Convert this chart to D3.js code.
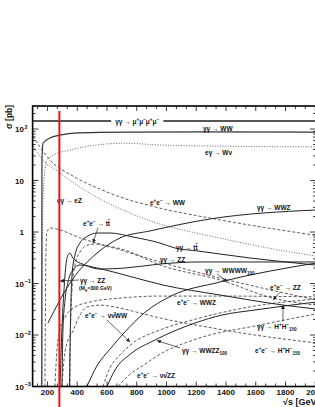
<!DOCTYPE html>
<html>
<head>
<meta charset="utf-8">
<script src="https://cdn.jsdelivr.net/npm/d3@7"></script>
<style>
  body { margin: 0; background: #fff; }
  text { font-family: "Liberation Sans", Arial, sans-serif; }
</style>
</head>
<body>
<div id="chart"></div>
<script>
// cross sections: [sqrt(s) in GeV, sigma in pb]
var ggMuMuMuMu = [[100, 143], [2005, 143]];
var ggWW = [[161.5, 0.001], [162.3, 2], [163, 25], [170, 53], [217, 67], [284, 76], [418, 84], [721, 87], [1300, 88], [2005, 87]];
var egWnu = [[164, 0.001], [167, 0.6], [172, 6], [197, 25], [237, 31], [351, 39], [533, 49], [721, 53], [956, 49], [1500, 46], [2005, 45]];
var eeWW = [[102, 73], [217, 25], [371, 12.2], [553, 6.8], [687, 4.8], [923, 3.06], [1326, 1.79], [2005, 0.86]];
var egeZ = [[102, 47], [170, 25], [284, 14], [398, 8.2], [553, 4.4], [721, 2.56], [956, 1.43], [1326, 0.8], [1750, 0.45], [2005, 0.34]];
var ggWWZ = [[203, 0.017], [284, 0.048], [365, 0.117], [533, 0.39], [687, 0.765], [889, 1.05], [1292, 1.79], [2005, 2.68]];
var ggTT = [[348, 0.001], [355, 0.0196], [365, 0.146], [385, 0.358], [418, 0.611], [472, 0.836], [533, 0.956], [620, 0.956], [775, 0.8], [956, 0.611], [1057, 0.489], [1212, 0.428], [1561, 0.313], [2005, 0.228]];
var ggZZ = [[284, 0.001], [297, 0.0125], [311, 0.075], [324, 0.229], [338, 0.358], [351, 0.391], [371, 0.313], [452, 0.229], [553, 0.191], [721, 0.2], [956, 0.239], [1225, 0.262], [2005, 0.262]];
var ggHH = [[297.5, 0.001], [304, 0.0125], [318, 0.048], [338, 0.107], [371, 0.183], [418, 0.229], [533, 0.2], [721, 0.146], [976, 0.0935], [1360, 0.0598], [1783, 0.0382], [2005, 0.032]];
var ggWWWW = [[465, 0.001], [532, 0.0025], [620, 0.0053], [721, 0.0115], [855, 0.0275], [1024, 0.056], [1360, 0.107], [2005, 0.25]];
var ggWWZZ = [[600, 0.001], [654, 0.0021], [755, 0.0042], [923, 0.008], [1192, 0.0171], [1373, 0.0244], [1595, 0.0306], [2005, 0.0437]];
var eeZZ = [[183, 0.001], [186.6, 0.048], [190, 0.447], [197, 1.0], [217, 1.2], [284, 1.1], [418, 0.77], [553, 0.585], [721, 0.447], [956, 0.229], [1360, 0.117], [1716, 0.052], [2005, 0.038]];
var eeTT = [[351, 0.001], [354.6, 0.0125], [365, 0.075], [385, 0.229], [418, 0.409], [472, 0.559], [519, 0.585], [620, 0.511], [755, 0.391], [956, 0.262], [1360, 0.128], [2005, 0.048]];
var eeWWZ = [[250, 0.001], [264, 0.0053], [284, 0.0125], [318, 0.022], [385, 0.035], [486, 0.0437], [687, 0.052], [956, 0.057], [1360, 0.057], [2005, 0.055]];
var eeHH = [[297.5, 0.001], [311, 0.0033], [338, 0.008], [365, 0.011], [418, 0.0244], [465, 0.035], [553, 0.038], [687, 0.0334], [822, 0.0267], [956, 0.0214], [1225, 0.0151], [1595, 0.01], [2005, 0.007]];
var eeNuNuWW = [[573, 0.001], [620, 0.0023], [687, 0.0041], [775, 0.007], [956, 0.0125], [1225, 0.0214], [1595, 0.0366], [2005, 0.05]];
var eeNuNuZZ = [[674, 0.001], [741, 0.0016], [855, 0.0027], [923, 0.0037], [1225, 0.0088], [1595, 0.015], [2005, 0.0256]];

// labels: [sqrt(s) of left edge, sigma at baseline, text]   {..} = superscript, [..] = subscript
var curveLabels = [
  [655, 125, 'γγ → μ{+}μ{−}μ{+}μ{−}'],
  [1245, 91.5, 'γγ → WW'],
  [1259, 31.3, 'eγ → Wν'],
  [264, 3.66, 'eγ → eZ'],
  [889, 3.34, 'e{+}e{−} → WW'],
  [1608, 2.67, 'γγ → WWZ'],
  [439, 1.31, 'e{+}e{−} → tt̄'],
  [1064, 0.447, 'γγ → tt̄'],
  [956, 0.262, 'γγ → ZZ'],
  [418, 0.102, 'γγ → ZZ'],
  [1259, 0.16, 'γγ → WWWW[100]'],
  [1696, 0.0748, 'e{+}e{−} → ZZ'],
  [1071, 0.0382, 'e{+}e{−} → WWZ'],
  [452, 0.0214, 'e{+}e{−} → νν̄WW'],
  [1608, 0.0131, 'γγ → H{+}H{−}[150]'],
  [1104, 0.00447, 'γγ → WWZZ[100]'],
  [1595, 0.00447, 'e{+}e{−} → H{+}H{−}[150]'],
  [802, 0.00146, 'e{+}e{−} → νν̄ZZ']
];
var noteLabels = [[412, 0.0748, '(M[H]=300 GeV)']];
// arrows from label to curve: [x1, s1, x2, s2]
var labelArrows = [
  [539, 1.2, 506, 0.611],
  [412, 0.117, 284, 0.112],
  [1341, 0.153, 1408, 0.107],
  [1763, 0.068, 1716, 0.048],
  [600, 0.0196, 755, 0.0073],
  [1783, 0.0187, 1783, 0.0382],
  [1091, 0.0056, 936, 0.0078]
];
var markerSqrtS = [280];

var xTickValues = [200, 400, 600, 800, 1000, 1200, 1400, 1600, 1800, 2000];
var yTickValues = [1e-3, 1e-2, 1e-1, 1, 10, 100];
var yTickBase = ['10', '10', '10', '1', '10', '10'];
var yTickExp = ['−3', '−2', '−1', '', '', '2'];

// canvas and frame
var W = 315, H = 407;
var frame = {left: 32.6, top: 106, right: 316, bottom: 386.5};

var x = d3.scaleLinear().domain([100, 2005]).range([frame.left, frame.right]);
var y = d3.scaleLog().domain([1e-3, 280]).range([frame.bottom, frame.top]);

var svg = d3.select('#chart').append('svg')
    .attr('width', W)
    .attr('height', H);

svg.append('clipPath').attr('id', 'clip')
  .append('rect')
    .attr('x', frame.left).attr('y', frame.top)
    .attr('width', frame.right - frame.left)
    .attr('height', frame.bottom - frame.top);

var defs = svg.append('defs');
defs.append('marker')
    .attr('id', 'arrow')
    .attr('viewBox', '0 0 6 6')
    .attr('refX', 6).attr('refY', 3)
    .attr('markerUnits', 'userSpaceOnUse')
    .attr('markerWidth', 4).attr('markerHeight', 4)
    .attr('orient', 'auto')
  .append('path')
    .attr('d', 'M0,0 L6,3 L0,6 z')
    .attr('fill', '#222');

var styles = {
  thick:  {stroke: '#555', width: 2, dash: null},
  solid:  {stroke: '#222', width: 1, dash: null},
  main:   {stroke: '#333', width: 1.2, dash: null},
  dashed: {stroke: '#333', width: 0.8, dash: '3,2'},
  dotted: {stroke: '#555', width: 0.9, dash: '1,1.6'}
};

var series = [
  [ggMuMuMuMu, 'thick'], [ggWW, 'main'], [egWnu, 'dotted'], [eeWW, 'dashed'], [egeZ, 'dotted'],
  [ggWWZ, 'solid'], [ggTT, 'solid'], [ggZZ, 'solid'], [ggHH, 'solid'], [ggWWWW, 'solid'],
  [ggWWZZ, 'solid'], [eeZZ, 'dashed'], [eeTT, 'dashed'], [eeWWZ, 'dashed'], [eeHH, 'dashed'],
  [eeNuNuWW, 'dashed'], [eeNuNuZZ, 'dashed']
];

var line = d3.line()
    .x(function(d) { return x(d[0]); })
    .y(function(d) { return y(d[1]); })
    .curve(d3.curveMonotoneX);

var curves = svg.append('g').attr('clip-path', 'url(#clip)');
curves.selectAll('path.curve')
    .data(series)
  .enter().append('path')
    .attr('class', 'curve')
    .attr('d', function(d) { return line(d[0]); })
    .attr('fill', 'none')
    .attr('stroke', function(d) { return styles[d[1]].stroke; })
    .attr('stroke-width', function(d) { return styles[d[1]].width; })
    .attr('stroke-dasharray', function(d) { return styles[d[1]].dash; });

// rich text: {sup} and [sub]
function richText(sel, str, size) {
  var re = /\{([^}]*)\}|\[([^\]]*)\]|([^{\[]+)/g, m, shift = 0;
  while ((m = re.exec(str)) !== null) {
    var target = m[1] !== undefined ? -size * 0.4 : (m[2] !== undefined ? size * 0.3 : 0);
    var txt = m[1] !== undefined ? m[1] : (m[2] !== undefined ? m[2] : m[3]);
    sel.append('tspan')
        .attr('dy', target - shift)
        .attr('font-size', target === 0 ? size : size * 0.7)
        .text(txt);
    shift = target;
  }
}

// labels
var labelSize = 6.5;
curveLabels.forEach(function(l, i) {
  var t = svg.append('text')
      .attr('x', x(l[0]))
      .attr('y', y(l[1]))
      .attr('font-size', labelSize)
      .attr('font-weight', 'bold')
      .attr('fill', '#111');
  richText(t, l[2], labelSize);
  if (i === 0) {
    var b = t.node().getBBox();
    svg.insert('rect', 'text')
        .attr('x', b.x - 4).attr('y', b.y)
        .attr('width', b.width + 8).attr('height', b.height)
        .attr('fill', '#fff');
  }
});
noteLabels.forEach(function(l) {
  var t = svg.append('text')
      .attr('x', x(l[0]))
      .attr('y', y(l[1]))
      .attr('font-size', 5)
      .attr('font-weight', 'bold')
      .attr('fill', '#111');
  richText(t, l[2], 5);
});

svg.selectAll('line.arrow')
    .data(labelArrows)
  .enter().append('line')
    .attr('class', 'arrow')
    .attr('x1', function(d) { return x(d[0]); })
    .attr('y1', function(d) { return y(d[1]); })
    .attr('x2', function(d) { return x(d[2]); })
    .attr('y2', function(d) { return y(d[3]); })
    .attr('stroke', '#222')
    .attr('stroke-width', 0.7)
    .attr('marker-end', 'url(#arrow)');

// ticks, pointing inward
var minorX = d3.range(200 - 200 / 3, 2005, 200 / 3);
var ticks = svg.append('g').attr('stroke', '#111').attr('stroke-width', 0.8);
minorX.forEach(function(v) {
  var major = Math.abs(v / 200 - Math.round(v / 200)) < 1e-6;
  var len = major ? 5 : 3;
  ticks.append('line').attr('x1', x(v)).attr('x2', x(v))
      .attr('y1', frame.bottom).attr('y2', frame.bottom - len);
  ticks.append('line').attr('x1', x(v)).attr('x2', x(v))
      .attr('y1', frame.top).attr('y2', frame.top + len);
});
var minorY = [];
yTickValues.concat([1000]).forEach(function(dec) {
  for (var k = 1; k < 10; k++) {
    var v = dec * k;
    if (v <= 280) minorY.push([v, k === 1]);
  }
});
minorY.forEach(function(d) {
  var len = d[1] ? 6 : 3;
  ticks.append('line').attr('x1', frame.left).attr('x2', frame.left + len)
      .attr('y1', y(d[0])).attr('y2', y(d[0]));
  ticks.append('line').attr('x1', frame.right).attr('x2', frame.right - len)
      .attr('y1', y(d[0])).attr('y2', y(d[0]));
});

// frame
svg.append('rect')
    .attr('x', frame.left).attr('y', frame.top)
    .attr('width', frame.right - frame.left)
    .attr('height', frame.bottom - frame.top)
    .attr('fill', 'none')
    .attr('stroke', '#000')
    .attr('stroke-width', 1.6);

// tick labels
svg.selectAll('text.xtick')
    .data(xTickValues)
  .enter().append('text')
    .attr('class', 'xtick')
    .attr('x', function(d) { return x(d); })
    .attr('y', 395)
    .attr('text-anchor', 'middle')
    .attr('font-size', 8)
    .attr('font-weight', 'bold')
    .attr('fill', '#111')
    .text(function(d) { return d; });

yTickValues.forEach(function(v, i) {
  svg.append('text')
      .attr('x', 24)
      .attr('y', y(v) + 3)
      .attr('text-anchor', 'end')
      .attr('font-size', 8)
      .attr('font-weight', 'bold')
      .attr('fill', '#111')
      .text(yTickBase[i]);
  if (yTickExp[i]) {
    svg.append('text')
        .attr('x', 24.5)
        .attr('y', y(v) - 0.5)
        .attr('font-size', 5.5)
        .attr('font-weight', 'bold')
        .attr('fill', '#111')
        .text(yTickExp[i]);
  }
});

// axis titles
svg.append('text')
    .attr('transform', 'translate(12,117) rotate(-90)')
    .attr('text-anchor', 'middle')
    .attr('font-size', 8.5)
    .attr('font-weight', 'bold')
    .attr('fill', '#111')
    .text('σ [pb]');
svg.append('text')
    .attr('x', 283)
    .attr('y', 404.5)
    .attr('font-size', 9)
    .attr('font-weight', 'bold')
    .attr('fill', '#111')
    .text('√s [GeV]');

// red marker line
svg.selectAll('line.marker')
    .data(markerSqrtS)
  .enter().append('line')
    .attr('class', 'marker')
    .attr('x1', function(d) { return x(d); })
    .attr('x2', function(d) { return x(d); })
    .attr('y1', y(223))
    .attr('y2', H)
    .attr('stroke', '#e8141c')
    .attr('stroke-width', 2);
</script>
</body>
</html>
